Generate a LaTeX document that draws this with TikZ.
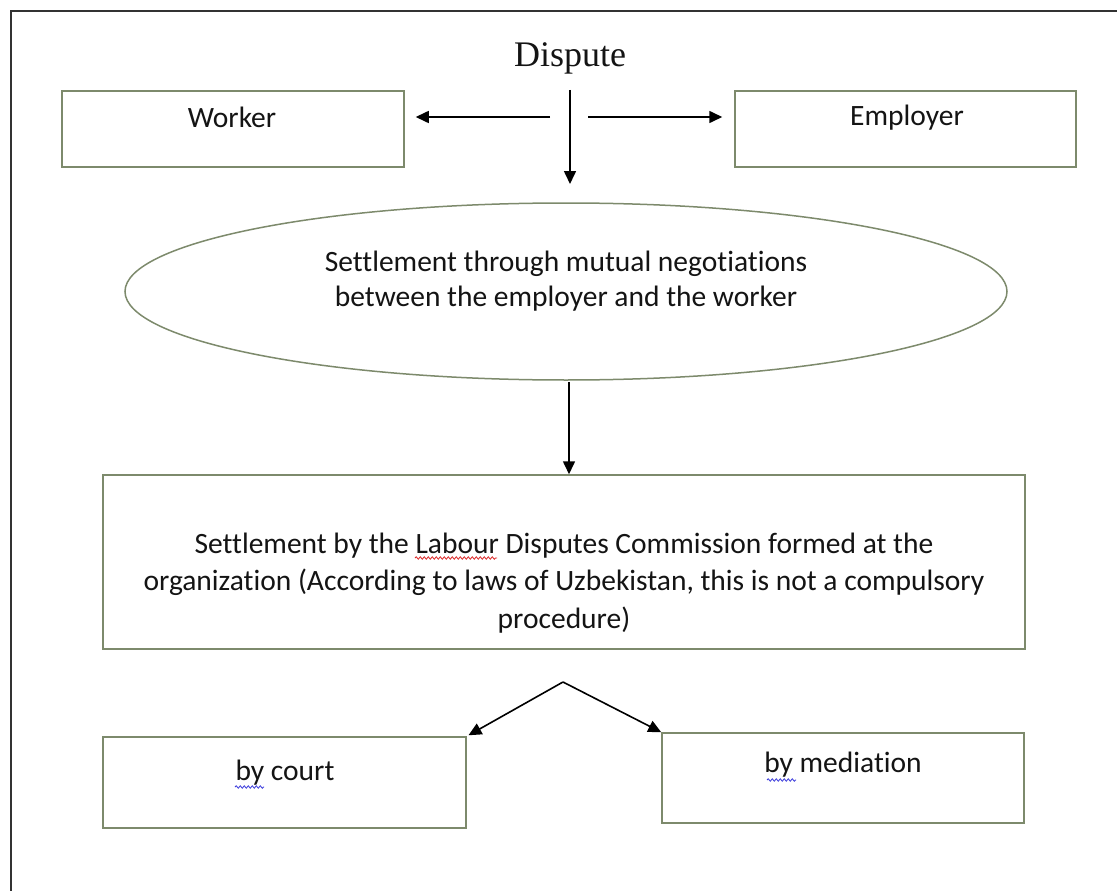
\documentclass[tikz,border=0pt]{standalone}
\usepackage{fontspec}
\setmainfont{Carlito}[Ligatures={NoCommon}]
\newfontfamily\serifdisp{Liberation Serif}
\usetikzlibrary{arrows.meta,shapes.geometric,decorations.pathmorphing}
\definecolor{boxline}{RGB}{125,138,108}
\definecolor{frameline}{RGB}{50,50,50}
\definecolor{txt}{RGB}{20,20,20}
\definecolor{spellred}{RGB}{220,40,40}
\definecolor{spellblue}{RGB}{60,60,220}
\begin{document}
\begin{tikzpicture}[x=1pt,y=-1pt,
  shapebox/.style={draw=boxline, line width=1.5pt, inner sep=0pt, fill=white},
  lbl/.style={text=txt, font=\fontsize{29.5}{35}\selectfont, align=center, inner sep=0pt},
  arr/.style={line width=1.6pt, -{Triangle[length=13pt,width=12pt]}},
  squiggle/.style={line width=0.8pt, decorate, decoration={snake, amplitude=1.2pt, segment length=4pt}},
]
\useasboundingbox (0,0) rectangle (1117,891);
\draw[frameline, line width=2.8pt] (1117,11) -- (11,11) -- (11,891);
\node[lbl, font=\serifdisp\fontsize{36}{40}\selectfont] (dispute) at (570,58) {Dispute};
\node[shapebox, minimum width=342, minimum height=76] (worker) at (233,129) {};
\node[lbl] (workertxt) at (232,117) {Worker};
\node[shapebox, minimum width=341, minimum height=76] (employer) at (905.5,129) {};
\node[lbl] (employertxt) at (907,118) {Employer};
\node[shapebox, ellipse, minimum width=882, minimum height=177] (nego) at (566,291.5) {};
\node[lbl] (negotxt) at (566,281) {Settlement through mutual negotiations\\between the employer and the worker};
\node[shapebox, minimum width=922, minimum height=174] (ldc) at (564,562) {};
\node[lbl, font=\fontsize{29.5}{37.5}\selectfont] (ldctxt) at (564,583) {Settlement by the Labour Disputes Commission formed at the\\organization (According to laws of Uzbekistan, this is not a compulsory\\procedure)};
\node[shapebox, minimum width=363, minimum height=91] (court) at (284.5,782.5) {};
\node[lbl] (courttxt) at (285,773) {by court};
\node[shapebox, minimum width=362, minimum height=90] (mediation) at (843,778) {};
\node[lbl] (mediationtxt) at (843,765) {by mediation};
\draw[spellred, squiggle] (415,558) -- (497,558);
\draw[spellblue, squiggle] (235,787) -- (264,787);
\draw[spellblue, squiggle] (767,780) -- (796,780);
\coordinate (split) at (570,90);
\coordinate (lstart) at (550,117);
\coordinate (rstart) at (588,117);
\coordinate (downend) at (570,184);
\coordinate (negoout) at (569,382);
\coordinate (apex) at (563,682);
\draw[arr, shorten >=11pt] (lstart) -- (worker.east |- lstart);
\draw[arr, shorten >=12pt] (rstart) -- (employer.west |- rstart);
\draw[arr] (split) -- (downend);
\draw[arr] (negoout) -- (negoout |- ldc.north);
\draw[arr, shorten >=2pt] (apex) -- (court.north east);
\draw[arr] (apex) -- (mediation.north west);
\end{tikzpicture}
\end{document}
